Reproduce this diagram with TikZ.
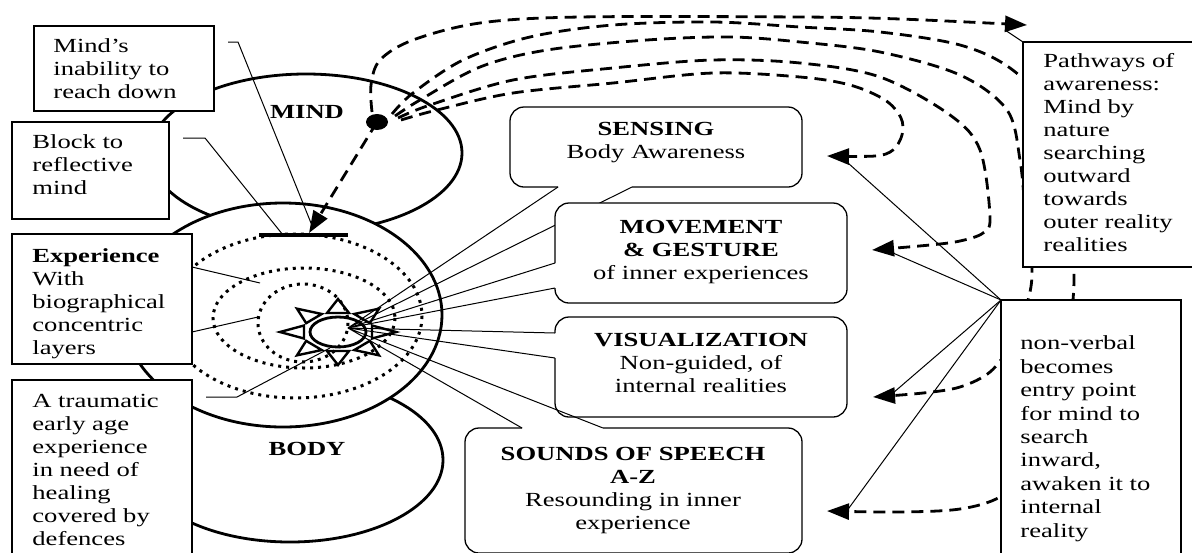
\documentclass[tikz,border=0pt]{standalone}
\usepackage{fontspec}
\setmainfont{Liberation Serif}[FakeStretch=1.33]
\usetikzlibrary{arrows.meta}

\begin{document}
\begin{tikzpicture}[x=0.5pt,y=-0.5pt,
    txt/.style={anchor=base west,align=left,inner sep=0pt,font=\fontsize{10}{11.5}\selectfont},
    ctxt/.style={anchor=base,align=center,inner sep=0pt,font=\fontsize{10}{11.5}\selectfont},
    box/.style={draw,fill=white,line width=0.65pt},
    callout/.style={line width=0.65pt,rounded corners=7pt},
    lead/.style={line width=0.5pt},
    ring/.style={line width=1.5pt,dash pattern=on 1.5pt off 2.5pt},
    pathway/.style={line width=1.4pt,dash pattern=on 6pt off 3.5pt},
    bigtip/.style={-{Triangle[length=11pt,width=8pt]}}]
    \useasboundingbox (0,0) rectangle (1192,552);
    \clip (0,0) rectangle (1192,552);
    \coordinate (apex) at (348,328);% where the tails meet
    \coordinate (dot) at (377,122);
    \coordinate (tipOut) at (1027,25);
    \coordinate (tipSense) at (827,156);
    \coordinate (tipMove) at (872,250);
    \coordinate (tipVis) at (873,397);
    \coordinate (tipSound) at (827,511);
    \coordinate (tipBar) at (309,233);
    \coordinate (nvc) at (1001,300);% corner of the non-verbal box
    \coordinate (pwc) at (1023,42);% corner of the pathways box
    % mind, body and experience
    \draw[line width=1.4pt] (306,153) ellipse [x radius=156,y radius=79];
    \draw[line width=1.4pt] (290,460) ellipse [x radius=153,y radius=82];
    \draw[line width=1.4pt,fill=white] (283,315) ellipse [x radius=159,y radius=112];
    \draw[ring] (295,316) ellipse [x radius=127,y radius=82];
    \draw[ring] (304,318) ellipse [x radius=91,y radius=50];
    \draw[ring] (303,323) ellipse [x radius=45,y radius=39];
    \draw[line width=2pt] (259,235) coordinate (barL) -- (348,235) coordinate (barR);
    \coordinate (barM) at (283,235);
    % the sun
    \draw[line width=1.4pt] (338,332) ellipse [x radius=28,y radius=15];
    \foreach \a in {0,45,...,315}{% one ray each
      \draw[line width=1.2pt] ({338+58*cos(\a)},{332-33*sin(\a)})
        -- ({338+34*cos(\a)+11*sin(\a)},{332-19*sin(\a)+6.5*cos(\a)})
        -- ({338+34*cos(\a)-11*sin(\a)},{332-19*sin(\a)-6.5*cos(\a)}) -- cycle;}
    \node[ctxt] (mind) at (307,118) {\textbf{MIND}};
    \node[ctxt] (body) at (307,455) {\textbf{BODY}};
    % pathways of awareness
    \draw[pathway,bigtip] plot[smooth,tension=0.55] coordinates {(372,112) (371,85) (380,60) (413,40)
        (480,23) (580,17) (800,17) (900,19) (tipOut)};
    \draw[pathway,bigtip] plot[smooth,tension=0.55] coordinates {(392,114) (413,93) (463,60) (530,37)
        (613,25) (713,22) (800,27) (880,32) (960,45) (1010,68) (1050,110) (1068,170) (1073,240)
        (1073,300) (1060,400) (1030,470) (1000,497) (960,509) (900,512) (tipSound)};
    \draw[pathway,bigtip] plot[smooth,tension=0.55] coordinates {(395,116) (420,100) (480,67) (547,50)
        (647,40) (730,37) (800,42) (880,52) (960,75) (1007,110) (1020,160) (1026,220) (1032,267)
        (1028,300) (1010,345) (990,372) (960,387) (923,393) (tipVis)};
    \draw[pathway,bigtip] plot[smooth,tension=0.55] coordinates {(398,118) (430,105) (513,80) (613,68)
        (713,60) (800,63) (880,77) (950,115) (980,150) (990,217) (983,233) (960,241) (930,245) (tipMove)};
    \draw[pathway,bigtip] plot[smooth,tension=0.55] coordinates {(401,120) (437,110) (513,93) (613,83)
        (713,73) (800,77) (850,85) (885,100) (901,118) (902,135) (893,150) (875,156) (tipSense)};
    \fill (dot) ellipse [x radius=11,y radius=8];
    \draw[pathway,bigtip] (dot) -- (tipBar);
    % the four callouts
    \fill[white,rounded corners=7pt] (510,107) rectangle (802,187);
    \draw[callout] (632,187) -- (802,187) -- (802,107) -- (510,107) -- (510,187) -- (558,187);
    \draw[lead] (558,187) -- (apex) -- (632,187);
    \node[ctxt] (sensing) at (656,158) {\textbf{SENSING}\\Body Awareness};
    \fill[white,rounded corners=7pt] (555,203) rectangle (847,303);
    \draw[callout] (555,288) -- (555,303) -- (847,303) -- (847,203) -- (555,203) -- (555,263);
    \draw[lead] (555,263) -- (apex) -- (555,288);
    \node[ctxt] (movement) at (701,279) {\textbf{MOVEMENT}\\\textbf{\& GESTURE}\\of inner experiences};
    \fill[white,rounded corners=7pt] (555,317) rectangle (847,417);
    \draw[callout] (555,358) -- (555,417) -- (847,417) -- (847,317) -- (555,317) -- (555,333);
    \draw[lead] (555,333) -- (apex) -- (555,358);
    \node[ctxt] (visual) at (701,392) {\textbf{VISUALIZATION}\\Non-guided, of\\internal realities};
    \fill[white,rounded corners=7pt] (465,428) rectangle (802,553);
    \draw[callout] (603,428) -- (802,428) -- (802,553) -- (465,553) -- (465,428) -- (522,428);
    \draw[lead] (522,428) -- (apex) -- (603,428);
    \node[ctxt] (sounds) at (633,529) {\textbf{SOUNDS OF SPEECH}\\\textbf{A-Z}\\Resounding in inner\\experience};
    % boxes on the left
    \draw[box] (34,26) rectangle (214,111);
    \node[txt] (reach) at (53,98) {Mind’s\\inability to\\reach down};
    \draw[lead] (228,42) -- (238,42) -- (313,228);
    \draw[box] (12,122) rectangle (169,219);
    \node[txt] (block) at (32,194) {Block to\\reflective\\mind};
    \draw[lead] (183,138) -- (205,138) -- (barM);
    \draw[box] (12,234) rectangle (192,364);
    \node[txt] (layers) at (32,354) {\textbf{Experience}\\With\\biographical\\concentric\\layers};
    \draw[lead] (192,267) -- (260,283);
    \draw[lead] (192,332) -- (258,317);
    \draw[box] (12,380) rectangle (192,560);
    \node[txt] (trauma) at (32,545) {A traumatic\\early age\\experience\\in need of\\healing\\covered by\\defences};
    \draw[lead] (206,397) -- (237,397) -- (330,348);
    % boxes on the right
    \draw[box] (pwc) rectangle (1200,267);
    \node[txt] (pathways) at (1043,251) {Pathways of\\awareness:\\Mind by\\nature\\searching\\outward\\towards\\outer reality\\realities};
    \draw[lead] (pwc) -- (1005,30);
    \draw[box] (nvc) rectangle (1181,560);
    \node[txt,font=\fontsize{10}{11.7}\selectfont] (nonverbal) at (1020,537) {non-verbal\\becomes\\entry point\\for mind to\\search\\inward,\\awaken it to\\internal\\reality};
    \draw[lead] (nvc) -- (848,163);
    \draw[lead] (nvc) -- (893,253);
    \draw[lead] (nvc) -- (893,393);
    \draw[lead] (nvc) -- (846,512);
\end{tikzpicture}
\end{document}
